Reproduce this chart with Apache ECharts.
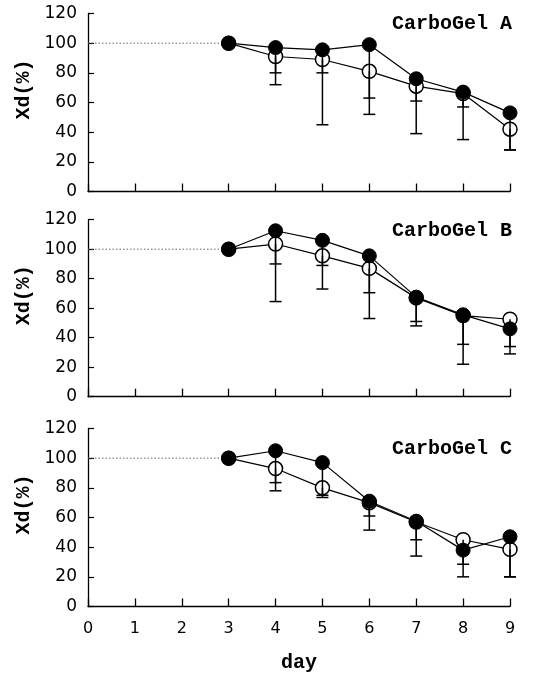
<!DOCTYPE html>
<html>
<head>
<meta charset="utf-8">
<script src="https://cdn.jsdelivr.net/npm/echarts@6/dist/echarts.min.js"></script>
<style>html,body{margin:0;padding:0;background:#fff}#c{width:536px;height:674px}</style>
</head>
<body>
<div id="c"></div>
<script>
// ---- data ----
const days = [3, 4, 5, 6, 7, 8, 9];
const baselineDays = [0, 3];
const baselineValue = 100;
const xTickLabels = ['0','1','2','3','4','5','6','7','8','9'];
const panelNames = ['CarboGel A', 'CarboGel B', 'CarboGel C'];

const aFilled    = [100, 97, 95.5, 99, 76, 67, 53];
const aOpen      = [100, 91, 89, 81, 71, 66, 42];
const aFilledLow = [null, 80, 80, 63, 61, 57, 28];
const aOpenLow   = [null, 72, 45, 52, 39, 35, 28];

const bFilled    = [100, 112.5, 106, 95.5, 67.5, 55.5, 46];
const bOpen      = [100, 103.5, 95.5, 87, 67, 55, 52.5];
const bFilledLow = [null, 90, 89, 70.5, 51, 35.5, 34];
const bOpenLow   = [null, 64.5, 73, 53, 48, 22, 29];

const cFilled    = [100, 105, 97, 71, 57.5, 38, 47];
const cOpen      = [100, 93, 80, 70, 57, 45, 38.5];
const cFilledLow = [null, 83.5, 75, 61, 45, 28.5, 20];
const cOpenLow   = [null, 78, 73.5, 51.5, 34, 20, 20];

const panels = [
  {filled: aFilled, open: aOpen, fLow: aFilledLow, oLow: aOpenLow},
  {filled: bFilled, open: bOpen, fLow: bFilledLow, oLow: bOpenLow},
  {filled: cFilled, open: cOpen, fLow: cFilledLow, oLow: cOpenLow}
];

// ---- layout ----
const grids = [
  {left: 88, right: 26, top: 13.5, height: 178},
  {left: 88, right: 26, top: 219.7, height: 177},
  {left: 88, right: 26, top: 428.5, height: 178}
];
const titleY = [25, 231.5, 449.5];

const monoBold = {fontFamily: 'Liberation Mono', fontWeight: 'bold', fontSize: 20, color: '#000'};

function pairs(xs, ys) { return xs.map((x, i) => [x, ys[i]]); }
function errData(vals, lows) {
  const out = [];
  days.forEach((d, i) => { if (lows[i] != null) out.push([d, vals[i], lows[i]]); });
  return out;
}
function renderErr(params, api) {
  const x = api.value(0), top = api.value(1), low = api.value(2);
  const p1 = api.coord([x, top]);
  const p2 = api.coord([x, low]);
  const w = 6;
  const st = {stroke: '#000', lineWidth: 1.5};
  return {type: 'group', children: [
    {type: 'line', shape: {x1: p1[0], y1: p1[1], x2: p2[0], y2: p2[1]}, style: st},
    {type: 'line', shape: {x1: p2[0] - w, y1: p2[1], x2: p2[0] + w, y2: p2[1]}, style: st}
  ]};
}

const xAxes = [], yAxes = [], series = [], graphics = [];
panels.forEach((p, k) => {
  const last = k === 2;
  xAxes.push({
    type: 'value', gridIndex: k, min: 0, max: 9, interval: 1,
    splitLine: {show: false},
    axisLine: {lineStyle: {color: '#000', width: 1.3}},
    axisTick: {inside: true, length: 8, lineStyle: {color: '#000', width: 1.3}},
    axisLabel: {show: last, color: '#000', fontFamily: 'DejaVu Sans', fontSize: 16, margin: 14,
      formatter: v => xTickLabels[v]},
    name: last ? 'day' : '', nameLocation: 'middle', nameGap: 46,
    nameTextStyle: monoBold
  });
  yAxes.push({
    type: 'value', gridIndex: k, min: 0, max: 120, interval: 20,
    splitLine: {show: false},
    axisLine: {show: true, lineStyle: {color: '#000', width: 1.3}},
    axisTick: {show: true, inside: true, length: 6, lineStyle: {color: '#000', width: 1.2}},
    axisLabel: {color: '#000', fontFamily: 'DejaVu Sans', fontSize: 17, margin: 11},
    name: 'Xd(%)', nameLocation: 'middle', nameGap: 52, nameRotate: 90,
    nameTextStyle: Object.assign({padding: [0, 0, 0, 26]}, monoBold)
  });
  series.push({
    type: 'line', xAxisIndex: k, yAxisIndex: k, z: 1,
    data: pairs(baselineDays, [baselineValue, baselineValue]),
    symbol: 'none', silent: true,
    lineStyle: {color: '#666', width: 1, type: [1.5, 2]}
  });
  series.push({
    type: 'line', xAxisIndex: k, yAxisIndex: k, z: 2,
    data: pairs(days, p.open), symbol: 'circle', symbolSize: 14,
    lineStyle: {color: '#000', width: 1.2},
    itemStyle: {color: '#fff', borderColor: '#000', borderWidth: 1.5}
  });
  series.push({
    type: 'custom', xAxisIndex: k, yAxisIndex: k, z: 3,
    data: errData(p.open, p.oLow), renderItem: renderErr, encode: {x: 0, y: [1, 2]}
  });
  series.push({
    type: 'custom', xAxisIndex: k, yAxisIndex: k, z: 3,
    data: errData(p.filled, p.fLow), renderItem: renderErr, encode: {x: 0, y: [1, 2]}
  });
  series.push({
    type: 'line', xAxisIndex: k, yAxisIndex: k, z: 4,
    data: pairs(days, p.filled), symbol: 'circle', symbolSize: 14,
    lineStyle: {color: '#000', width: 1.2},
    itemStyle: {color: '#000', borderColor: '#000', borderWidth: 1}
  });
  graphics.push({
    type: 'text', right: 24, top: titleY[k] - 11,
    style: {text: panelNames[k], font: 'bold 20px "Liberation Mono"', fill: '#000'}
  });
});

const chart = echarts.init(document.getElementById('c'), null, {renderer: 'canvas'});
chart.setOption({
  animation: false,
  backgroundColor: '#fff',
  grid: grids,
  xAxis: xAxes,
  yAxis: yAxes,
  series: series,
  graphic: graphics
});
</script>
</body>
</html>
